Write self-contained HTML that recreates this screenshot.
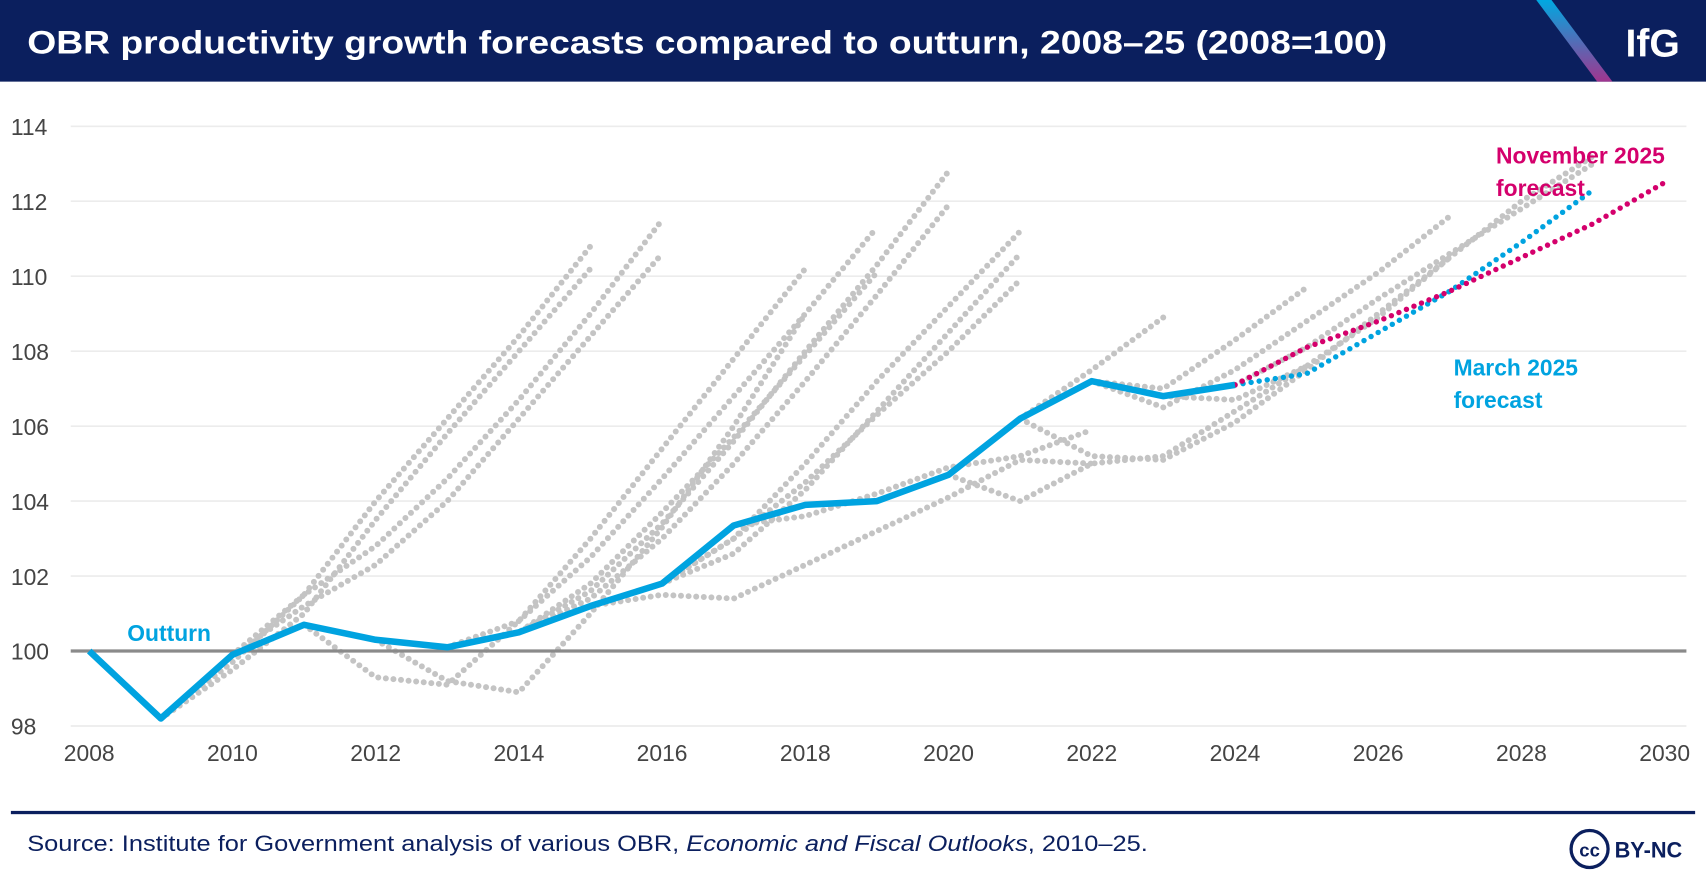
<!DOCTYPE html>
<html><head><meta charset="utf-8">
<style>
html,body{margin:0;padding:0;background:#fff;}
svg{display:block;font-family:"Liberation Sans",sans-serif;}
</style></head>
<body>
<svg id="chart" width="1706" height="886" viewBox="0 0 1568 814" preserveAspectRatio="none" xmlns="http://www.w3.org/2000/svg">
  <rect x="0" y="0" width="1568" height="75" fill="#0b1f5e"/>
  <text x="25" y="49" fill="#fff" font-size="30" font-weight="bold" textLength="1250" lengthAdjust="spacingAndGlyphs">OBR productivity growth forecasts compared to outturn, 2008–25 (2008=100)</text>
  <defs><linearGradient id="lg" x1="0" y1="0" x2="0" y2="1"><stop offset="0" stop-color="#00a8e1"/><stop offset="1" stop-color="#a0358f"/></linearGradient></defs>
  <polygon points="1412,0 1426,0 1482,75 1468,75" fill="url(#lg)"/>
  <text x="1544" y="52" fill="#fff" font-size="36" font-weight="bold" text-anchor="end">IfG</text>
  <g id="grid"></g>
  <g id="yticks"></g>
  <g id="xticks"></g>
  <g id="series"></g>
  <text x="117" y="589" fill="#00a3e0" font-size="21" font-weight="bold">Outturn</text>
  <text x="1375" y="150" fill="#d4006c" font-size="21" font-weight="bold">November 2025</text>
  <text x="1375" y="180" fill="#d4006c" font-size="21" font-weight="bold">forecast</text>
  <text x="1336" y="345" fill="#00a3e0" font-size="21" font-weight="bold">March 2025</text>
  <text x="1336" y="375" fill="#00a3e0" font-size="21" font-weight="bold">forecast</text>
  <rect x="10" y="745" width="1548" height="3" fill="#0b1f5e"/>
  <text x="25" y="782" fill="#0b1f5e" font-size="20" textLength="1030" lengthAdjust="spacingAndGlyphs">Source: Institute for Government analysis of various OBR, <tspan font-style="italic">Economic and Fiscal Outlooks</tspan>, 2010–25.</text>
  <g>
    <circle cx="1461" cy="780" r="17" fill="#fff" stroke="#0b1f5e" stroke-width="3"/>
    <text x="1461" y="787" fill="#0b1f5e" font-size="17" font-weight="bold" text-anchor="middle">cc</text>
    <text x="1484" y="788" fill="#0b1f5e" font-size="20" font-weight="bold">BY-NC</text>
  </g>
</svg>
<script>
const yTicks = [98,100,102,104,106,108,110,112,114];
const xTicks = [2008,2010,2012,2014,2016,2018,2020,2022,2024,2026,2028,2030];
const outturnYears = [2008,2009,2010,2011,2012,2013,2014,2015,2016,2017,2018,2019,2020,2021,2022,2023,2024];
const outturnValues = [100,98.2,99.9,100.7,100.3,100.1,100.5,101.2,101.8,103.35,103.9,104.0,104.7,106.2,107.2,106.8,107.1];
const marchStart = 2024;
const marchValues = [107.1,107.4,108.5,109.6,110.9,112.3];
const novStart = 2024;
const novValues = [107.1,108.1,108.8,109.6,110.5,111.4,112.5];
const pastStarts = [2009,2009,2010,2010,2011,2012,2013,2013,2014,2014,2015,2015,2016,2016,2017,2020,2021,2022,2022,2023,2021,2024];
const pastValues = [
 [98.2,99.7,101.5,104.0,106.2,108.4,110.8],
 [98.2,99.5,101.0,103.5,105.8,108.0,110.2],
 [99.9,101.2,102.3,104.0,106.2,108.4,110.6],
 [99.9,101.5,102.8,104.6,106.7,109.0,111.5],
 [100.7,99.3,99.1,100.8,103.0,105.4,107.8,110.2],
 [100.3,99.2,98.9,101.0,103.3,106.0,109.0],
 [100.1,100.8,102.5,104.6,106.8,109.0,111.3],
 [100.1,100.5,101.8,103.7,105.7,107.9,110.1],
 [100.5,101.4,103.0,105.0,107.2,109.5,111.9],
 [100.5,101.6,103.4,105.6,108.0,110.3,112.8],
 [101.2,101.8,103.0,104.5,106.3,108.0,109.9],
 [101.2,101.5,101.4,102.3,103.2,104.1,105.1,105.0],
 [101.8,103.0,105.0,107.2,109.2,111.2],
 [101.8,102.6,104.3,106.4,108.5,110.6],
 [103.35,103.6,104.2,104.9,105.2,105.9],
 [104.7,104.0,105.0,105.2,106.4,107.6],
 [106.2,107.5,108.9],
 [107.2,107.0,108.3,109.7],
 [107.2,106.5,107.5,108.8,110.1,111.6],
 [106.8,106.7,107.6,108.9,110.5],
 [106.2,105.2,105.1,106.1,107.5,109.0,110.5,112.0,113.2],
 [107.1,108.1,109.4,110.6,111.8,113.0]
];
const NS='http://www.w3.org/2000/svg';
const X0=82, X1=1530, Y0=667, Y1=116;
function xs(y){return X0+(y-2008)*(X1-X0)/22;}
function ys(v){return Y0-(v-98)*(Y0-Y1)/16;}
function mk(tag,attrs,parent){const e=document.createElementNS(NS,tag);for(const k in attrs)e.setAttribute(k,attrs[k]);parent.appendChild(e);return e;}
const grid=document.getElementById('grid'), yt=document.getElementById('yticks'), xt=document.getElementById('xticks'), ser=document.getElementById('series');
yTicks.forEach(v=>{
  if(v!==100){const l=mk('line',{x1:65,x2:1550,y1:ys(v),y2:ys(v),stroke:'#ececec','stroke-width':1.5},grid);
  
  }
  const t=mk('text',{x:10,y:ys(v)+8,'font-size':21,fill:'#444'},yt);t.textContent=v;
  
  
});
xTicks.forEach(v=>{
  const t=mk('text',{x:xs(v),y:699,'font-size':21,fill:'#444','text-anchor':'middle'},xt);t.textContent=v;
  
  
});
function pts(start,vals){return vals.map((v,i)=>xs(start+i)+','+ys(v)).join(' ');}
pastValues.forEach((vals,i)=>{
  const p=mk('polyline',{points:pts(pastStarts[i],vals),fill:'none',stroke:'#c4c4c4','stroke-width':5.5,'stroke-linecap':'round','stroke-linejoin':'round','stroke-dasharray':'0 7'},ser);
  
  
});
const base=mk('line',{x1:65,x2:1550,y1:ys(100),y2:ys(100),stroke:'#8a8a8a','stroke-width':3},ser);


const m=mk('polyline',{points:pts(marchStart,marchValues),fill:'none',stroke:'#00a3e0','stroke-width':5,'stroke-linecap':'round','stroke-dasharray':'0 7.5'},ser);


const n=mk('polyline',{points:pts(novStart,novValues),fill:'none',stroke:'#d4006c','stroke-width':5,'stroke-linecap':'round','stroke-dasharray':'0 7.5'},ser);


const o=mk('polyline',{points:outturnYears.map((y,i)=>xs(y)+','+ys(outturnValues[i])).join(' '),fill:'none',stroke:'#00a3e0','stroke-width':6,'stroke-linejoin':'round'},ser);


</script>
</body></html>
